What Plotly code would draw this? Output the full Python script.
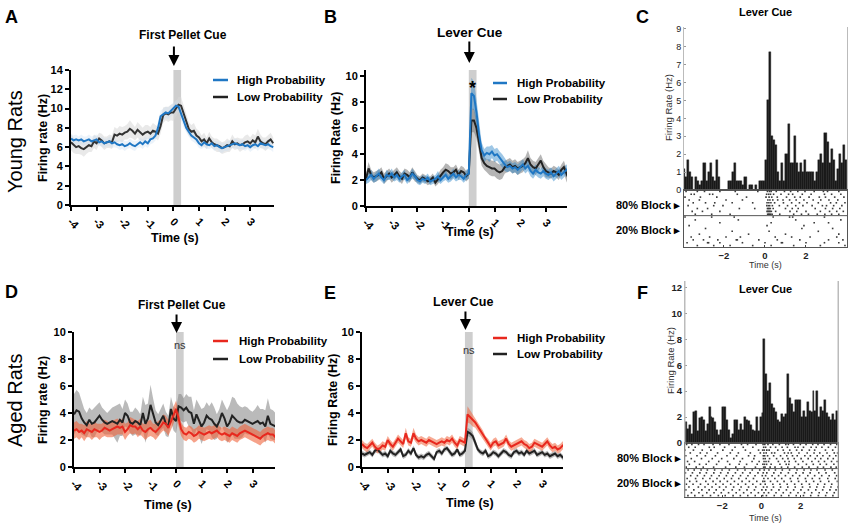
import numpy as np
import plotly.graph_objects as go

W, H = 850, 525
FONT = "Liberation Sans, Arial, sans-serif"

# ---------------- data ----------------
t = np.round(np.arange(-4.0, 4.0, 0.1), 1)  # time bins (s)

A_high = [6.9,6.7,6.8,6.7,6.8,6.6,6.7,6.8,6.6,6.7, 6.8,6.5,6.6,6.4,6.5,6.6,6.4,6.5,6.3,6.2,
          6.3,6.1,6.2,6.4,6.2,6.1,6.3,6.5,6.3,6.6, 6.4,6.8,6.9,7.2,8.0,9.2,9.4,9.6,9.5,9.8,
          10.0,10.3,10.2,9.4,8.6,8.0,7.6,7.2,7.0,6.8, 6.4,6.2,6.5,6.3,6.2,6.4,6.1,6.2,6.0,5.9,
          6.0,6.1,6.2,6.3,6.4,6.3,6.2,6.3,6.1,6.2, 6.0,6.2,6.3,6.1,6.4,6.3,6.2,6.3,6.1,6.0]
A_low = [6.5,6.2,6.0,6.1,5.9,5.8,6.0,6.2,6.1,6.6, 6.4,6.9,6.7,6.4,6.5,6.6,6.5,7.3,7.2,7.4,
         7.3,7.5,7.6,7.9,7.7,7.4,7.8,7.5,7.3,7.5, 7.6,7.4,7.7,7.6,7.4,8.2,9.3,9.5,9.4,9.6,
         9.6,10.0,10.4,10.3,9.5,8.5,7.9,7.6,7.7,7.2, 7.0,6.6,6.8,6.4,6.9,6.5,6.3,6.2,6.1,5.9,
         6.0,6.2,6.1,6.6,6.3,6.4,6.2,6.3,6.5,6.6, 6.4,6.7,6.5,7.1,6.6,6.4,6.3,6.6,6.8,6.4]
A_high_sem = [0.5,0.5,0.5,0.4,0.5,0.5,0.4,0.5,0.5,0.5, 0.5,0.4,0.5,0.5,0.4,0.5,0.5,0.5,0.4,0.5,
              0.5,0.5,0.4,0.5,0.5,0.5,0.4,0.5,0.5,0.5, 0.5,0.5,0.5,0.5,0.6,0.6,0.6,0.6,0.6,0.6,
              0.6,0.6,0.6,0.6,0.6,0.5,0.5,0.5,0.5,0.5, 0.5,0.4,0.5,0.5,0.4,0.5,0.5,0.4,0.5,0.5,
              0.4,0.5,0.5,0.4,0.5,0.5,0.4,0.5,0.5,0.4, 0.5,0.5,0.4,0.5,0.5,0.4,0.5,0.5,0.4,0.5]
A_low_sem = [0.8,0.8,0.7,0.8,0.7,0.8,0.7,0.7,0.6,0.7, 0.7,0.6,0.7,0.7,0.6,0.7,0.7,0.8,0.7,0.8,
             0.8,0.7,0.8,0.9,0.8,0.7,0.8,0.8,0.7,0.8, 0.7,0.7,0.8,0.7,0.7,0.8,0.8,0.7,0.8,0.8,
             0.9,0.8,0.8,0.9,0.8,0.8,0.7,0.7,0.8,0.7, 0.7,0.6,0.7,0.6,0.7,0.6,0.6,0.7,0.6,0.6,
             0.6,0.7,0.6,0.7,0.6,0.6,0.7,0.6,0.7,0.7, 0.6,0.7,0.7,0.8,0.7,0.6,0.7,0.7,0.7,0.6]

B_high = [2.0,2.2,2.4,2.1,2.3,2.5,2.2,2.0,2.4,2.3, 2.5,2.2,2.4,2.1,2.3,2.4,2.0,2.2,2.5,2.3,
          2.0,1.9,2.1,2.0,2.2,1.9,2.0,2.1,2.3,2.0, 2.2,2.4,2.1,2.3,2.5,2.2,2.4,2.3,2.1,2.4,
          2.5,8.7,8.5,7.2,5.5,4.3,3.9,4.1,4.0,4.2, 3.9,4.0,3.7,3.5,3.2,3.0,3.1,2.9,3.0,2.8,
          3.0,3.2,2.9,3.1,2.7,2.5,2.8,2.6,2.5,2.7, 2.5,2.4,2.6,2.3,2.5,2.7,2.4,2.6,2.8,2.7]
B_low = [2.1,2.9,2.4,2.2,2.3,2.4,2.6,2.1,2.3,2.5, 2.2,2.4,2.6,2.3,2.1,2.5,2.4,2.2,2.6,2.3,
         2.1,2.0,2.2,2.1,1.9,2.0,2.2,1.8,2.1,2.4, 2.6,2.8,2.7,2.5,2.6,2.8,2.4,2.7,2.6,2.3,
         2.5,6.6,6.6,6.0,4.8,3.7,3.3,3.1,3.0,2.9, 2.9,2.7,2.6,2.7,3.0,3.1,3.2,3.0,3.1,2.9,
         3.0,3.1,3.3,3.7,3.2,3.0,2.9,3.2,3.5,3.0, 2.7,2.6,2.5,2.7,2.6,2.4,2.8,3.0,2.4,2.0]
B_high_sem = [0.3,0.4,0.4,0.3,0.4,0.4,0.3,0.3,0.4,0.3, 0.4,0.3,0.4,0.3,0.3,0.4,0.3,0.3,0.4,0.3,
              0.3,0.3,0.3,0.3,0.3,0.3,0.3,0.3,0.4,0.3, 0.3,0.4,0.3,0.4,0.4,0.3,0.4,0.3,0.3,0.4,
              0.4,1.2,1.1,1.0,0.8,0.6,0.5,0.5,0.6,0.5, 0.5,0.5,0.5,0.5,0.5,0.4,0.4,0.4,0.4,0.4,
              0.4,0.4,0.4,0.4,0.4,0.4,0.4,0.4,0.4,0.4, 0.4,0.4,0.4,0.4,0.4,0.4,0.4,0.4,0.4,0.4]
B_low_sem = [0.4,0.5,0.4,0.4,0.4,0.4,0.4,0.4,0.4,0.4, 0.4,0.4,0.4,0.4,0.4,0.4,0.4,0.4,0.4,0.4,
             0.3,0.3,0.3,0.3,0.3,0.3,0.3,0.3,0.4,0.4, 0.4,0.5,0.5,0.5,0.4,0.4,0.4,0.4,0.4,0.4,
             0.4,0.9,0.9,0.8,0.7,0.6,0.5,0.5,0.6,0.6, 0.6,0.6,0.6,0.6,0.5,0.5,0.5,0.5,0.5,0.5,
             0.5,0.5,0.5,0.6,0.5,0.5,0.5,0.5,0.5,0.5, 0.5,0.4,0.4,0.4,0.4,0.4,0.4,0.5,0.5,0.5]

D_high = [2.7,2.8,2.6,2.7,2.5,2.8,2.7,2.6,2.8,2.7, 2.6,2.7,2.9,2.8,2.7,2.8,2.9,3.0,2.9,3.0,
          2.6,2.8,3.1,3.0,3.0,2.8,3.0,2.7,2.6,2.8, 2.9,2.7,2.6,2.8,3.0,3.3,3.2,2.9,3.4,3.8,
          4.3,3.6,2.8,2.5,2.4,2.6,2.5,2.3,2.4,2.6, 2.5,2.4,2.5,2.6,2.5,2.6,2.7,2.5,2.4,2.5,
          2.4,2.3,2.5,2.4,2.3,2.5,2.6,2.7,2.6,2.5, 2.4,2.3,2.2,2.1,2.3,2.4,2.5,2.4,2.4,2.2]
D_low = [3.9,4.2,4.1,3.6,3.3,3.1,3.5,3.2,3.3,3.6, 3.8,3.5,3.3,3.2,3.3,3.4,3.3,3.2,3.5,3.3,
         4.0,3.8,3.3,3.2,3.4,3.3,3.1,4.0,3.2,3.6, 4.6,3.9,3.3,3.1,3.5,3.8,3.2,3.0,4.3,3.6,
         3.4,4.5,4.4,4.2,4.4,4.1,4.0,3.2,3.9,3.5, 3.0,3.3,3.8,3.6,3.5,3.2,3.0,3.4,4.0,3.6,
         3.0,3.3,3.8,3.6,3.4,3.3,3.3,3.5,3.4,3.3, 3.2,3.3,3.4,3.2,3.3,3.0,3.8,3.2,3.1,3.0]
D_high_sem = [0.6,0.6,0.6,0.5,0.6,0.6,0.5,0.6,0.6,0.5, 0.6,0.5,0.6,0.6,0.5,0.6,0.6,0.6,0.5,0.6,
              0.6,0.5,0.6,0.6,0.5,0.6,0.6,0.5,0.6,0.6, 0.6,0.5,0.6,0.6,0.5,0.6,0.6,0.6,0.6,0.6,
              0.6,0.6,0.5,0.5,0.5,0.5,0.5,0.5,0.5,0.5, 0.5,0.5,0.5,0.5,0.5,0.5,0.5,0.5,0.5,0.5,
              0.5,0.5,0.5,0.5,0.5,0.5,0.5,0.5,0.5,0.5, 0.5,0.5,0.5,0.5,0.5,0.5,0.5,0.5,0.5,0.5]
D_low_sem = [1.5,1.5,1.4,1.2,1.0,0.9,0.9,1.0,1.1,1.0, 1.0,0.9,0.9,0.8,0.9,1.0,1.2,1.4,1.2,1.0,
             1.0,0.9,0.8,0.9,1.0,0.9,0.8,1.2,1.4,1.1, 1.5,1.2,0.9,0.8,0.8,0.9,0.9,0.8,0.9,0.9,
             0.9,0.9,1.0,0.9,1.0,1.1,1.2,1.0,1.1,1.2, 1.3,1.1,1.0,0.9,1.3,1.2,0.9,0.9,1.0,1.0,
             1.2,1.3,1.4,1.5,1.3,1.2,1.1,1.0,1.0,0.9, 0.9,1.0,1.2,1.1,1.0,1.2,1.3,1.1,1.1,1.0]

E_high = [1.7,1.5,1.4,1.6,1.8,1.5,1.3,1.4,1.6,1.5, 2.0,1.7,1.5,1.8,2.1,1.9,1.7,2.5,1.9,1.8,
          2.5,2.1,1.9,2.0,1.9,1.8,2.0,1.9,1.8,1.7, 1.8,1.9,1.8,2.0,1.9,2.1,1.8,1.6,2.0,1.9,
          1.8,3.9,3.7,3.5,3.3,3.0,2.7,2.4,2.0,1.8, 1.5,1.8,1.9,1.6,1.7,1.8,2.1,1.7,1.5,1.6,
          1.7,1.8,1.9,1.7,1.6,1.4,1.5,1.8,1.7,1.6, 1.5,1.7,1.9,1.6,1.4,1.5,1.3,1.4,1.6,1.5]
E_low = [1.0,0.9,1.0,1.1,0.9,1.2,1.3,1.1,0.9,1.0, 0.8,1.2,1.0,0.9,1.1,1.3,0.8,0.9,1.2,1.0,
         1.4,0.9,0.7,0.8,0.7,0.9,1.0,0.8,0.6,1.1, 1.2,1.0,1.3,1.4,1.1,0.9,1.0,1.3,0.9,1.0,
         1.2,2.6,2.5,2.3,1.8,1.3,1.1,1.0,1.2,0.8, 0.9,1.1,1.0,0.8,1.0,1.2,1.1,0.9,0.8,1.1,
         1.2,1.0,1.1,0.9,1.2,1.0,1.1,1.2,0.9,1.0, 1.1,0.9,1.0,0.8,0.9,1.0,0.8,0.9,0.7,0.7]
E_high_sem = [0.3,0.3,0.3,0.3,0.3,0.3,0.3,0.3,0.3,0.3, 0.3,0.3,0.3,0.3,0.3,0.3,0.3,0.4,0.3,0.3,
              0.4,0.3,0.3,0.3,0.3,0.3,0.3,0.3,0.3,0.3, 0.3,0.3,0.3,0.3,0.3,0.3,0.3,0.3,0.3,0.3,
              0.3,0.6,0.5,0.5,0.4,0.4,0.4,0.3,0.3,0.3, 0.3,0.3,0.3,0.3,0.3,0.3,0.3,0.3,0.3,0.3,
              0.3,0.3,0.3,0.3,0.3,0.3,0.3,0.3,0.3,0.3, 0.3,0.3,0.3,0.3,0.3,0.3,0.3,0.3,0.3,0.3]
E_low_sem = [0.2,0.2,0.2,0.2,0.2,0.2,0.2,0.2,0.2,0.2, 0.2,0.2,0.2,0.2,0.2,0.2,0.2,0.2,0.2,0.2,
             0.2,0.2,0.2,0.2,0.2,0.2,0.2,0.2,0.2,0.2, 0.2,0.2,0.2,0.2,0.2,0.2,0.2,0.2,0.2,0.2,
             0.2,0.3,0.3,0.3,0.3,0.2,0.2,0.2,0.2,0.2, 0.2,0.2,0.2,0.2,0.2,0.2,0.2,0.2,0.2,0.2,
             0.2,0.2,0.2,0.2,0.2,0.2,0.2,0.2,0.2,0.2, 0.2,0.2,0.2,0.2,0.2,0.2,0.2,0.2,0.2,0.2]

# PSTH panels (0.1 s bins)
C_centers = np.round(np.arange(-3.95, 4.0, 0.1), 2)
C_hist = [1.2,0.7,1.7,1.0,0.7,0.0,0.7,0.5,0.3,0.5, 1.5,0.5,1.0,1.5,0.7,0.5,1.7,0.7,0.0,0.0,
          0.0,0.0,0.5,0.5,1.0,1.5,0.5,0.5,0.5,0.3, 0.7,0.0,0.3,0.3,0.0,0.3,0.0,0.5,0.5,0.5,
          1.7,5.0,7.7,3.0,2.8,2.5,1.0,0.5,1.5,0.5, 2.0,3.7,1.5,1.5,3.0,1.5,1.0,1.5,1.0,1.7,
          1.0,1.0,1.0,1.0,0.5,1.0,1.7,2.0,1.5,3.2, 2.7,1.5,2.3,1.7,0.5,1.2,2.0,1.5,2.5,1.7]
F_centers = np.round(np.arange(-3.85, 3.9, 0.1), 2)
F_hist = [1.6,1.1,1.4,0.7,2.4,2.5,0.9,1.9,2.0,1.8, 0.9,1.5,2.8,2.0,1.9,1.6,1.0,0.6,1.0,2.8,
          2.8,1.8,1.0,0.4,0.7,1.8,1.8,1.0,1.5,1.0, 2.0,1.8,1.7,1.4,1.0,0.9,2.0,0.9,2.0,
          2.3,8.0,5.3,4.0,4.6,3.0,2.7,2.4,1.8,1.6, 2.2,2.0,2.2,5.3,3.5,3.0,2.4,3.3,3.3,3.3,
          2.0,2.5,2.0,3.2,2.5,2.4,4.0,2.5,4.0,2.0, 2.8,2.5,3.3,2.3,2.0,1.8,2.2,1.8,2.5]

# Raster spike times (one list per trial)
C_80 = [[-3.85,-3.3,-2.95,-2.2,-1.45,-0.35,0.12,0.22,0.3,0.55,0.95,1.25,1.6,1.95,2.4,2.85,3.05,3.6],
        [-3.6,-3.45,-2.7,-2.55,-1.35,0.08,0.18,0.27,0.42,0.78,1.15,1.35,1.82,2.25,2.9,3.25,3.7],
        [-3.9,-3.15,-2.35,-0.9,0.05,0.2,0.33,0.6,1.05,1.45,1.72,2.15,2.65,2.95,3.4,3.85],
        [-3.7,-3.2,-1.9,-1.1,0.14,0.24,0.38,0.62,0.88,1.2,1.52,1.9,2.35,2.72,3.12,3.55],
        [-3.5,-2.9,-2.45,-1.6,-0.6,0.1,0.19,0.29,0.47,0.9,1.3,1.68,2.05,2.6,3.2,3.48,3.9],
        [-3.75,-2.5,-2.05,0.09,0.17,0.23,0.36,0.7,1.1,1.5,1.85,2.3,2.8,3.0,3.35,3.75],
        [-3.3,-2.8,-1.25,-0.5,0.12,0.16,0.21,0.26,0.4,1.0,1.33,1.62,2.45,2.95,3.3,3.65],
        [-3.55,-3.05,-2.2,0.1,0.15,0.2,0.25,0.31,0.52,1.22,1.55,2.0,2.7,3.15,3.5,3.82],
        [-3.4,-2.6,-1.7,0.13,0.18,0.22,0.28,0.35,0.72,1.4,1.78,2.12,2.55,2.92,3.25,3.6]]
C_20 = [[-3.9,-2.6,-1.5,0.4,1.2,1.35,2.9],
        [-3.4,-1.3,1.5,3.7],
        [-2.2,0.3,2.4,3.1],
        [-3.7,0.1,1.9],
        [-2.9,1.8,3.3],
        [-1.6,0.2,2.6],
        [-3.2,-0.8,1.0,3.6],
        [-3.6,-2.7,-1.9,-1.2,0.5,1.3,2.2,3.5],
        [-3.5,-3.0,-2.3,-1.4,-1.35,-0.3,0.6,1.7,3.1,3.8],
        [-3.8,-2.8,-2.75,-2.2,-1.1,0.0,0.8,0.85,2.0,2.9,3.6],
        [-3.3,-2.5,-1.7,-0.6,0.3,1.4,2.7,3.9]]
F_80 = [[-3.82,-3.55,-3.21,-2.93,-2.47,-2.12,-1.66,-1.02,-0.71,-0.28,0.08,0.17,0.33,0.58,0.91,1.24,1.37,1.63,1.98,2.27,2.61,2.88,3.19,3.52,3.84],
        [-3.71,-3.38,-2.66,-2.41,-1.88,-1.35,-0.93,-0.44,0.11,0.21,0.46,0.72,1.05,1.32,1.71,1.86,2.14,2.53,2.79,3.08,3.41,3.77],
        [-3.9,-3.47,-3.02,-2.58,-1.97,-1.49,-0.82,-0.15,0.06,0.14,0.27,0.39,0.83,1.11,1.44,1.79,2.06,2.44,2.71,3.26,3.63],
        [-3.63,-3.12,-2.78,-2.24,-1.59,-1.18,-0.57,-0.06,0.12,0.24,0.52,0.67,1.17,1.36,1.52,1.91,2.33,2.68,2.97,3.34,3.71,3.88],
        [-3.86,-3.29,-2.86,-2.35,-1.76,-1.27,-0.66,-0.35,0.09,0.16,0.31,0.62,0.97,1.29,1.58,1.82,2.21,2.49,2.84,3.13,3.47,3.79],
        [-3.58,-3.06,-2.51,-2.03,-1.41,-0.97,-0.39,0.1,0.19,0.41,0.77,1.08,1.35,1.67,2.02,2.38,2.74,3.02,3.38,3.66],
        [-3.77,-3.41,-2.69,-2.18,-1.73,-1.09,-0.48,-0.12,0.13,0.23,0.36,0.86,1.19,1.41,1.74,2.11,2.57,2.91,3.21,3.57,3.86],
        [-3.68,-3.16,-2.82,-2.29,-1.62,-1.14,-0.76,-0.22,0.07,0.15,0.26,0.49,0.94,1.26,1.39,1.88,2.29,2.64,2.99,3.31,3.69],
        [-3.84,-3.33,-2.97,-2.44,-1.83,-1.31,-0.87,-0.31,0.11,0.18,0.44,0.69,1.02,1.34,1.69,2.08,2.42,2.86,3.16,3.54,3.81]]
F_20 = [[-3.74,-3.43,-3.08,-2.76,-2.39,-2.01,-1.64,-1.22,-0.84,-0.47,-0.09,0.14,0.38,0.71,1.06,1.43,1.81,2.17,2.52,2.83,3.24,3.61],
        [-3.88,-3.52,-3.14,-2.81,-2.43,-2.08,-1.71,-1.33,-0.96,-0.58,-0.18,0.09,0.27,0.63,0.99,1.37,1.76,2.12,2.48,2.92,3.29,3.73],
        [-3.61,-3.27,-2.91,-2.55,-2.16,-1.79,-1.46,-1.07,-0.69,-0.33,0.04,0.21,0.54,0.87,1.22,1.59,1.94,2.36,2.71,3.07,3.45,3.83],
        [-3.79,-3.36,-2.99,-2.63,-2.27,-1.9,-1.53,-1.16,-0.78,-0.41,0.12,0.33,0.68,1.03,1.47,1.85,2.24,2.59,2.96,3.38,3.76],
        [-3.66,-3.31,-2.84,-2.47,-2.11,-1.74,-1.38,-0.99,-0.62,-0.24,0.07,0.16,0.46,0.81,1.15,1.52,1.89,2.28,2.66,3.01,3.43,3.87],
        [-3.83,-3.49,-3.11,-2.72,-2.33,-1.96,-1.57,-1.19,-0.81,-0.44,-0.05,0.19,0.58,0.94,1.31,1.69,2.05,2.44,2.87,3.22,3.58],
        [-3.7,-3.22,-2.88,-2.52,-2.14,-1.81,-1.42,-1.04,-0.66,-0.29,0.1,0.28,0.61,0.97,1.34,1.72,2.09,2.47,2.82,3.18,3.54,3.89],
        [-3.86,-3.45,-3.04,-2.67,-2.31,-1.93,-1.49,-1.12,-0.74,-0.36,0.02,0.22,0.51,0.89,1.27,1.64,2.01,2.39,2.77,3.12,3.49,3.8],
        [-3.57,-3.19,-2.79,-2.42,-2.05,-1.68,-1.29,-0.91,-0.53,-0.16,0.13,0.36,0.74,1.11,1.48,1.86,2.19,2.56,2.94,3.33,3.71],
        [-3.75,-3.4,-3.0,-2.6,-2.2,-1.85,-1.45,-1.08,-0.7,-0.32,0.06,0.25,0.65,1.01,1.39,1.77,2.14,2.51,2.9,3.27,3.64]]

time_ticks = [-4, -3, -2, -1, 0, 1, 2, 3]
time_ticktext = ["-4", "-3", "-2", "-1", "0", "1", "2", "3"]

BLUE = "#1f77c4"
RED = "#e8281e"
DARK = "#222222"

# ---------------- helpers ----------------
def px(x):
    return x / W

def py(y):
    return 1 - y / H

fig = go.Figure()

def band_line(xa, ya, mean, sem, fillcolor):
    m = np.array(mean); s = np.array(sem)
    up = m + s; lo = m - s
    fig.add_trace(go.Scatter(x=np.concatenate([t, t[::-1]]), y=np.concatenate([up, lo[::-1]]),
                             fill="toself", fillcolor=fillcolor, line=dict(width=0),
                             mode="lines", hoverinfo="skip", showlegend=False, xaxis=xa, yaxis=ya))

def line(xa, ya, mean, color):
    fig.add_trace(go.Scatter(x=t, y=mean, mode="lines", line=dict(color=color, width=2),
                             showlegend=False, xaxis=xa, yaxis=ya))

# A
band_line("x", "y", A_low, A_low_sem, "rgba(215,215,215,0.55)")
band_line("x", "y", A_high, A_high_sem, "rgba(200,220,240,0.35)")
line("x", "y", A_low, "#333333")
line("x", "y", A_high, BLUE)
# B
band_line("x2", "y2", B_low, B_low_sem, "rgba(120,120,120,0.55)")
band_line("x2", "y2", B_high, B_high_sem, "rgba(40,130,200,0.45)")
line("x2", "y2", B_low, DARK)
line("x2", "y2", B_high, BLUE)
# D
band_line("x5", "y5", D_low, D_low_sem, "rgba(130,130,130,0.55)")
band_line("x5", "y5", D_high, D_high_sem, "rgba(240,100,60,0.6)")
line("x5", "y5", D_low, DARK)
line("x5", "y5", D_high, RED)
# E
band_line("x6", "y6", E_low, E_low_sem, "rgba(130,130,130,0.55)")
band_line("x6", "y6", E_high, E_high_sem, "rgba(240,100,60,0.55)")
line("x6", "y6", E_low, DARK)
line("x6", "y6", E_high, RED)

# Histograms
fig.add_trace(go.Bar(x=C_centers, y=C_hist, width=0.1,
                     marker=dict(color="#1a1a1a", line=dict(width=0.4, color="#1a1a1a")),
                     showlegend=False, xaxis="x3", yaxis="y3"))
fig.add_trace(go.Bar(x=F_centers, y=F_hist, width=0.1,
                     marker=dict(color="#1a1a1a", line=dict(width=0.4, color="#1a1a1a")),
                     showlegend=False, xaxis="x7", yaxis="y7"))

def raster(blocks, xa, ya):
    xs, ys = [], []
    row = 1
    for block in blocks:
        for trial in block:
            for s in trial:
                xs.append(s); ys.append(row)
            row += 1
    fig.add_trace(go.Scatter(x=xs, y=ys, mode="markers",
                             marker=dict(symbol="square", size=1.6, color="#3a3a3a", line=dict(width=0)),
                             showlegend=False, xaxis=xa, yaxis=ya))

raster([C_80, C_20], "x4", "y4")
raster([F_80, F_20], "x8", "y8")

# ---------------- axes ----------------
tickfont_b = dict(family=FONT, size=11, color="black", weight="bold")
def time_axis(dom, rng, anchor):
    return dict(domain=dom, range=rng, anchor=anchor, showline=True, linecolor="black", linewidth=2,
                ticks="outside", ticklen=4, tickwidth=2, tickcolor="black",
                tickvals=time_ticks, ticktext=time_ticktext, tickangle=45,
                tickfont=tickfont_b, showgrid=False, zeroline=False, automargin=False)

def rate_axis(dom, rng, dtick, anchor):
    return dict(domain=dom, range=rng, anchor=anchor, showline=True, linecolor="black", linewidth=2,
                ticks="outside", ticklen=4, tickwidth=2, tickcolor="black", dtick=dtick,
                tickfont=tickfont_b, showgrid=False, zeroline=False, automargin=False)

small_font = dict(family=FONT, size=9, color="#222222")
small_bold = dict(family=FONT, size=9.5, color="#222222", weight="bold")

layout_axes = dict(
    xaxis=time_axis([px(71), px(274)], [-4.0, 3.93], "y"),
    yaxis=rate_axis([py(205), py(70)], [0, 14], 2, "x"),
    xaxis2=time_axis([px(366), px(567)], [-4.0, 3.82], "y2"),
    yaxis2=rate_axis([py(206), py(70)], [0, 10.5], 2, "x2"),
    xaxis5=time_axis([px(74), px(275)], [-4.0, 3.88], "y5"),
    yaxis5=rate_axis([py(467), py(332)], [0, 10], 2, "x5"),
    xaxis6=time_axis([px(362), px(563)], [-4.0, 3.81], "y6"),
    yaxis6=rate_axis([py(467), py(332)], [0, 10], 2, "x6"),
    # C histogram
    xaxis3=dict(domain=[px(684), px(847)], range=[-3.95, 4.0], anchor="y3", showticklabels=False,
                showline=True, linecolor="#555555", linewidth=1, ticks="", showgrid=False, zeroline=False,
                automargin=False),
    yaxis3=dict(domain=[py(190), py(27)], range=[0, 9.1], anchor="x3", dtick=1, tickfont=small_font,
                showline=True, mirror=True, linecolor="#bbbbbb", linewidth=1, ticks="inside", ticklen=2,
                tickcolor="#999999", showgrid=False, zeroline=False, automargin=False),
    xaxis4=dict(domain=[px(684), px(847)], range=[-3.95, 4.0], anchor="y4", tickvals=[-2, 0, 2],
                ticktext=["\u22122", "0", "2"], tickfont=small_bold,
                showline=True, mirror=True, linecolor="#555555", linewidth=1, ticks="inside", ticklen=2,
                showgrid=False, zeroline=False, automargin=False),
    yaxis4=dict(domain=[py(247), py(190)], range=[20.5, 0.5], anchor="x4", showticklabels=False,
                showline=True, mirror=True, linecolor="#555555", linewidth=1, ticks="", showgrid=False,
                zeroline=False, automargin=False),
    # F histogram
    xaxis7=dict(domain=[px(685), px(838)], range=[-3.9, 3.9], anchor="y7", showticklabels=False,
                showline=True, linecolor="#555555", linewidth=1, ticks="", showgrid=False, zeroline=False,
                automargin=False),
    yaxis7=dict(domain=[py(443), py(281)], range=[0, 12.5], anchor="x7", dtick=2, tickfont=small_bold,
                showline=True, mirror=True, linecolor="#bbbbbb", linewidth=1, ticks="inside", ticklen=2,
                tickcolor="#999999", showgrid=False, zeroline=False, automargin=False),
    xaxis8=dict(domain=[px(685), px(838)], range=[-3.9, 3.9], anchor="y8", tickvals=[-2, 0, 2],
                ticktext=["\u22122", "0", "2"], tickfont=small_bold,
                showline=True, mirror=True, linecolor="#555555", linewidth=1, ticks="inside", ticklen=2,
                showgrid=False, zeroline=False, automargin=False),
    yaxis8=dict(domain=[py(497), py(443)], range=[19.5, 0.5], anchor="x8", showticklabels=False,
                showline=True, mirror=True, linecolor="#555555", linewidth=1, ticks="", showgrid=False,
                zeroline=False, automargin=False),
)

# ---------------- shapes ----------------
shapes = []
for xa, ya in [("x", "y"), ("x2", "y2"), ("x5", "y5"), ("x6", "y6")]:
    shapes.append(dict(type="rect", xref=xa, yref=ya + " domain", x0=0, x1=0.3, y0=0, y1=1,
                       fillcolor="rgba(190,190,190,0.75)", line=dict(width=0), layer="below"))
# raster block dividers
shapes.append(dict(type="line", xref="x4 domain", yref="y4", x0=0, x1=1, y0=9.5, y1=9.5,
                   line=dict(color="#555555", width=1)))
shapes.append(dict(type="line", xref="x8 domain", yref="y8", x0=0, x1=1, y0=9.5, y1=9.5,
                   line=dict(color="#555555", width=1)))
# F frame sides spanning histogram + raster
for xx in [685, 838]:
    shapes.append(dict(type="line", xref="paper", yref="paper", x0=px(xx), x1=px(xx), y0=py(497), y1=py(281),
                       line=dict(color="#bbbbbb", width=1)))

# legend samples
legend_items = [
    (213, 228, 235, 80, "High Probability", BLUE), (213, 228, 235, 97, "Low Probability", DARK),
    (493, 507, 515, 83, "High Probability", BLUE), (493, 507, 515, 99, "Low Probability", DARK),
    (213, 228, 237, 341, "High Probability", RED), (213, 228, 237, 359, "Low Probability", DARK),
    (493, 507, 515, 338, "High Probability", RED), (493, 507, 515, 354, "Low Probability", DARK),
]
annotations = []
for x0, x1, xt, yy, txt, col in legend_items:
    shapes.append(dict(type="line", xref="paper", yref="paper", x0=px(x0), x1=px(x1), y0=py(yy), y1=py(yy),
                       line=dict(color=col, width=2.5)))
    annotations.append(dict(text=txt, x=px(xt), y=py(yy), xref="paper", yref="paper", xanchor="left",
                            yanchor="middle", showarrow=False,
                            font=dict(family=FONT, size=11.5, color="black", weight="bold")))

def ann(text, x, y, size, bold=True, angle=0, xanchor="center", color="black"):
    annotations.append(dict(text=text, x=px(x), y=py(y), xref="paper", yref="paper", xanchor=xanchor,
                            yanchor="middle", showarrow=False, textangle=angle,
                            font=dict(family=FONT, size=size, color=color,
                                      weight="bold" if bold else "normal")))

# panel letters
ann("A", 11, 17, 18); ann("B", 330, 17, 18); ann("C", 642, 17, 18)
ann("D", 11, 292, 18); ann("E", 330, 293, 18); ann("F", 642, 293, 18)
# row labels
ann("Young Rats", 15, 142, 20, bold=False, angle=-90)
ann("Aged Rats", 15, 401, 20, bold=False, angle=-90)
# y titles
ann("Firing rate (Hz)", 43, 138, 12.5, angle=-90)
ann("Firing Rate (Hz)", 336, 138, 12.5, angle=-90)
ann("Firing rate (Hz)", 43, 400, 12.5, angle=-90)
ann("Firing Rate (Hz)", 333, 400, 12.5, angle=-90)
ann("Firing Rate (Hz)", 668, 108, 9.5, bold=False, angle=-90, color="#333333")
ann("Firing Rate (Hz)", 670, 361, 9.5, bold=False, angle=-90, color="#333333")
# x titles
ann("Time (s)", 175, 238, 12.5); ann("Time (s)", 470, 232, 12.5)
ann("Time (s)", 168, 505, 12.5); ann("Time (s)", 470, 503, 12.5)
ann("Time (s)", 765, 265, 9, bold=False, color="#333333")
ann("Time (s)", 765, 518, 9, bold=False, color="#333333")
# event titles
ann("First Pellet Cue", 183, 35, 12); ann("Lever Cue", 470, 32, 13.5)
ann("First Pellet Cue", 182, 305, 12); ann("Lever Cue", 463, 302, 12.5)
ann("Lever Cue", 765, 12, 11); ann("Lever Cue", 765, 289, 11)
# raster block labels
ann("80% Block \u25B8", 682, 205, 11, xanchor="right")
ann("20% Block \u25B8", 682, 230, 11, xanchor="right")
ann("80% Block \u25B8", 683, 458, 11, xanchor="right")
ann("20% Block \u25B8", 683, 483, 11, xanchor="right")
# significance marks
annotations.append(dict(text="*", x=0.15, y=py(76), xref="x2", yref="paper", showarrow=False,
                        font=dict(family=FONT, size=18, color="black", weight="bold")))
annotations.append(dict(text="ns", x=0.15, y=py(353), xref="x5", yref="paper", showarrow=False,
                        font=dict(family=FONT, size=11, color="#333333")))
annotations.append(dict(text="ns", x=0.15, y=py(350), xref="x6", yref="paper", showarrow=False,
                        font=dict(family=FONT, size=11, color="#333333")))
# event arrows
for xa, tip, tail in [("x", 66, 45), ("x2", 63, 40), ("x5", 333, 313), ("x6", 330, 310)]:
    annotations.append(dict(text="", x=0.02, y=py(tip), xref=xa, yref="paper", showarrow=True,
                            ax=0, ay=-(tip - tail), arrowhead=2, arrowsize=1.1, arrowwidth=2,
                            arrowcolor="black"))

fig.update_layout(template="none", width=W, height=H, margin=dict(l=0, r=0, t=0, b=0, pad=0),
                  autosize=False, paper_bgcolor="white", plot_bgcolor="rgba(0,0,0,0)", showlegend=False,
                  bargap=0, shapes=shapes, annotations=annotations,
                  font=dict(family=FONT), **layout_axes)

fig.write_html("out.html", config={"displayModeBar": False},
               post_script="document.body.style.margin='0px';document.body.style.padding='0px';")
